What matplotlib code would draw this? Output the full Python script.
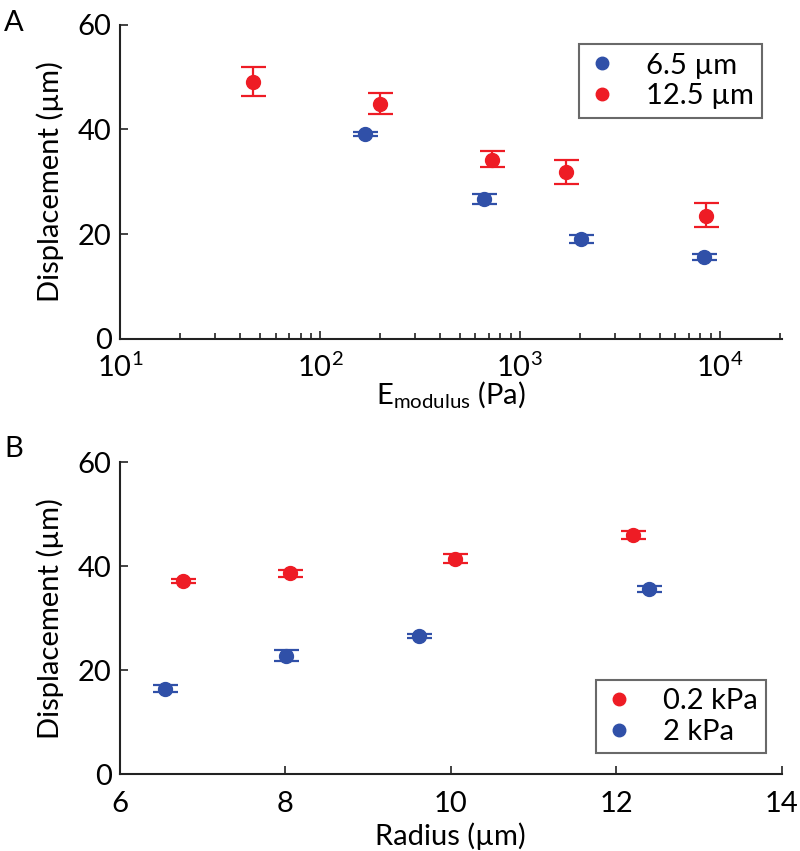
import matplotlib.pyplot as plt
from matplotlib.lines import Line2D

plt.rcParams['font.family'] = ['Lato', 'DejaVu Sans']
plt.rcParams['mathtext.fontset'] = 'custom'
plt.rcParams['mathtext.rm'] = 'Lato'
plt.rcParams['mathtext.it'] = 'Lato:italic'

RED = '#ee1c25'
BLUE = '#3050a8'

# panel A: displacement vs E modulus
a_red_x = [46.5, 200, 730, 1700, 8540]
a_red_y = [49.0, 44.9, 34.2, 31.8, 23.5]
a_red_lo = [2.7, 1.9, 1.4, 2.2, 2.1]
a_red_hi = [3.0, 2.0, 1.6, 2.4, 2.4]
a_blue_x = [169, 665, 2030, 8390]
a_blue_y = [39.1, 26.7, 19.1, 15.6]
a_blue_err = [0.4, 0.9, 0.8, 0.6]

# panel B: displacement vs radius
b_red_x = [6.76, 8.06, 10.05, 12.2]
b_red_y = [37.2, 38.6, 41.4, 46.0]
b_red_err = [0.4, 0.75, 0.85, 0.8]
b_blue_x = [6.54, 8.01, 9.61, 12.4]
b_blue_y = [16.5, 22.8, 26.6, 35.6]
b_blue_err = [0.7, 1.05, 0.45, 0.5]

fig = plt.figure(figsize=(8, 8.51), dpi=100)
axA = fig.add_axes([0.150, 0.602, 0.827, 0.369])
axB = fig.add_axes([0.150, 0.090, 0.827, 0.367])

ebkw = dict(fmt='o', markersize=10, capsize=9, elinewidth=1.6, capthick=1.6, linestyle='none')

axA.errorbar(a_blue_x, a_blue_y, yerr=a_blue_err, color=BLUE, **ebkw)
axA.errorbar(a_red_x, a_red_y, yerr=[a_red_lo, a_red_hi], color=RED, **ebkw)
axA.set_xscale('log')
axA.set_xlim(10, 2.04e4)
axA.set_ylim(0, 60)
axA.set_xlabel(r'E$_{\mathrm{modulus}}$ (Pa)', fontsize=21, labelpad=-2)
axA.set_ylabel('Displacement (µm)', fontsize=21, labelpad=10)

axB.errorbar(b_red_x, b_red_y, yerr=b_red_err, color=RED, **ebkw)
axB.errorbar(b_blue_x, b_blue_y, yerr=b_blue_err, color=BLUE, **ebkw)
axB.set_xlim(6, 14)
axB.set_ylim(0, 60)
axB.set_xticks([6, 8, 10, 12, 14])
axB.set_xlabel('Radius (µm)', fontsize=21, labelpad=4)
axB.set_ylabel('Displacement (µm)', fontsize=21, labelpad=10)

for ax in (axA, axB):
    ax.set_yticks([0, 20, 40, 60])
    ax.spines['top'].set_visible(False)
    ax.spines['right'].set_visible(False)
    for s in ('left', 'bottom'):
        ax.spines[s].set_linewidth(1.5)
        ax.spines[s].set_color('#222222')
    ax.tick_params(which='both', direction='in', labelsize=21, width=1.2, color='#222222')
    ax.tick_params(which='major', length=6)
    ax.tick_params(which='minor', length=4)
    ax.tick_params(axis='y', pad=6)
axA.tick_params(axis='x', pad=10)
axB.tick_params(axis='x', pad=12)

def dot(c):
    return Line2D([], [], marker='o', color=c, linestyle='none', markersize=9)

legkw = dict(fontsize=21, fancybox=False, edgecolor='#444444', handlelength=1.0,
             handletextpad=1.0, borderpad=0.3, labelspacing=0.15, borderaxespad=0)
legA = axA.legend([dot(BLUE), dot(RED)], ['6.5 µm', '12.5 µm'], loc='upper right',
                  bbox_to_anchor=(0.971, 0.939), **legkw)
legA.get_frame().set_linewidth(1.5)
legB = axB.legend([dot(RED), dot(BLUE)], ['0.2 kPa', '2 kPa'], loc='lower right',
                  bbox_to_anchor=(0.977, 0.067), **legkw)
legB.get_frame().set_linewidth(1.5)

fig.text(0.005, 0.988, 'A', fontsize=21, va='top')
fig.text(0.005, 0.488, 'B', fontsize=21, va='top')

fig.savefig('out.png', dpi=100)
